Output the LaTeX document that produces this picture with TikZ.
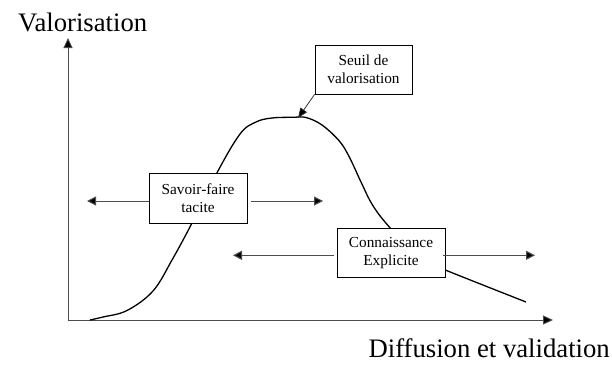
\documentclass[tikz,border=0pt]{standalone}
\usepackage{fontspec}
\setmainfont{Liberation Serif}
\usetikzlibrary{arrows.meta}

\tikzset{
  axe/.style={draw=black!70, line width=0.9pt, -{Triangle[length=10pt,width=9pt,fill=black]}},
  fleche/.style={draw=black!70, line width=1pt, -{Triangle[length=9pt,width=9pt,fill=black]}},
  boite/.style={draw=black, line width=0.8pt, fill=white, align=center, inner sep=0pt,
    font=\fontsize{15.3}{18}\selectfont},
  titre/.style={font=\fontsize{26.7}{32}\selectfont, inner sep=0pt}
}

\begin{document}
\begin{tikzpicture}[x=1pt,y=1pt]
\useasboundingbox (0,0) rectangle (612,-364);
% axes
\coordinate (O) at (68,-320);
\coordinate (ymax) at (68,-38);
\coordinate (xmax) at (553,-320);
\draw [axe] (O) -- (ymax);
\draw [axe] (O) -- (xmax);
\node [titre, anchor=base west] (ylab) at (18,-31.5) {Valorisation};
\node [titre, anchor=base east] (xlab) at (610,-357) {Diffusion et validation};
% courbe
\draw [black, line width=1.3pt] plot [smooth, tension=0.6] coordinates {
  (90,-320) (103,-317) (127,-310.5) (153,-291) (172,-260) (192,-223)
  (216.7,-173.3) (240,-134) (256,-122) (272,-118) (293,-117.3) (306,-117.5)
  (322,-125) (339.3,-141) (349.3,-157) (361,-182) (372.7,-205.3) (389.3,-227)
  (420,-259) (446,-270.3) (526,-302)};
% boites
\node [boite, minimum width=97pt, minimum height=49pt] (seuil) at (363.5,-69.5) {Seuil de\\valorisation};
\node [boite, minimum width=98pt, minimum height=50pt] (tacite) at (198,-198) {Savoir-faire\\tacite};
\node [boite, minimum width=108pt, minimum height=49pt] (explicite) at (391,-253.2) {Connaissance\\Explicite};
% fleches
\coordinate (tg) at (87,-201);
\coordinate (td) at (323,-201);
\coordinate (eg) at (233,-255.3);
\coordinate (ed) at (535,-255.3);
\coordinate (pic) at (298,-118);
\draw [fleche] (tacite.west |- tg) -- (tg);
\draw [fleche] ([xshift=4pt]tacite.east |- td) -- (td);
\draw [fleche] ([xshift=-3pt]explicite.west |- eg) -- (eg);
\draw [fleche] ([xshift=-2pt]explicite.east |- ed) -- (ed);
\draw [black!80, line width=0.8pt, -{Triangle[length=10pt,width=8pt,fill=black]}] (seuil.south west) -- (pic);
\end{tikzpicture}
\end{document}
